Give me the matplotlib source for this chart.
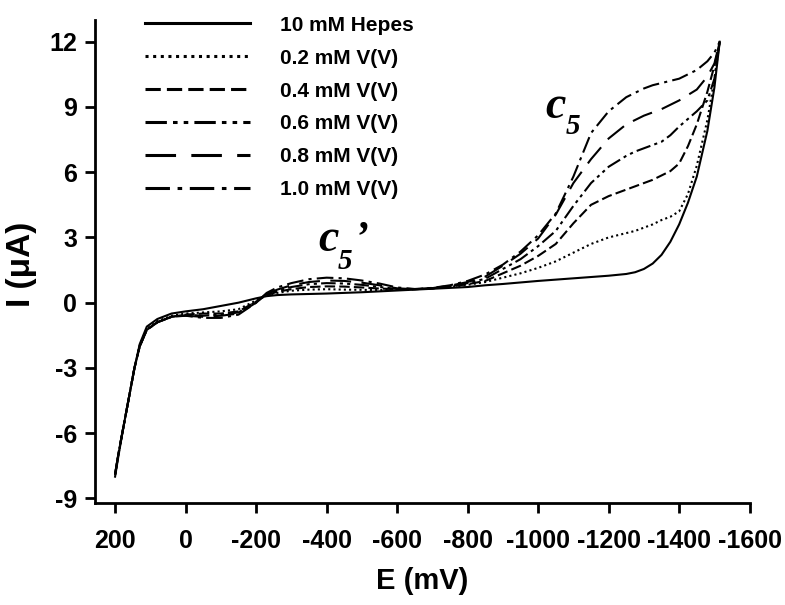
import matplotlib
matplotlib.use("Agg")
import matplotlib.pyplot as plt

plt.rcParams['font.family'] = ['Liberation Sans', 'DejaVu Sans']
plt.rcParams['font.weight'] = 'bold'
plt.rcParams['axes.unicode_minus'] = False

# potential grid (mV), forward scan
E = [200, 190, 175, 160, 145, 130, 110, 80, 40, 0, -50, -100, -150, -200,
     -230, -260, -300, -350, -400, -450, -500, -550, -600, -650, -700, -750,
     -800, -850, -900, -950, -1000, -1050, -1100, -1150, -1200, -1250, -1275,
     -1300, -1325, -1350, -1375, -1400, -1425, -1450, -1480, -1500, -1515]

# current (uA) for each solution
I_hepes = [-8.0, -7.0, -5.6, -4.3, -3.0, -1.9, -1.1, -0.75, -0.5, -0.4, -0.3, -0.15, 0.0, 0.2,
           0.3, 0.35, 0.38, 0.4, 0.42, 0.45, 0.48, 0.52, 0.56, 0.6, 0.64, 0.68,
           0.72, 0.8, 0.86, 0.93, 1.0, 1.06, 1.12, 1.18, 1.24, 1.32, 1.4,
           1.55, 1.8, 2.2, 2.8, 3.6, 4.6, 5.8, 7.9, 9.9, 12.0]
I_02 = [-7.9, -6.9, -5.6, -4.3, -3.0, -1.95, -1.2, -0.85, -0.6, -0.5, -0.45, -0.4, -0.3, 0.1,
        0.35, 0.45, 0.55, 0.6, 0.62, 0.6, 0.59, 0.58, 0.6, 0.62, 0.66, 0.72,
        0.82, 0.95, 1.15, 1.35, 1.6, 1.9, 2.3, 2.7, 3.0, 3.2, 3.3,
        3.45, 3.6, 3.8, 3.95, 4.2, 5.0, 6.3, 8.4, 10.3, 12.0]
I_04 = [-7.9, -6.9, -5.6, -4.3, -3.0, -2.0, -1.25, -0.9, -0.65, -0.55, -0.5, -0.5, -0.4, 0.05,
        0.35, 0.5, 0.62, 0.72, 0.75, 0.74, 0.7, 0.65, 0.62, 0.62, 0.66, 0.74,
        0.85, 1.0, 1.35, 1.7, 2.15, 2.7, 3.65, 4.5, 4.9, 5.2, 5.35,
        5.5, 5.65, 5.85, 6.05, 6.4, 7.2, 8.2, 9.7, 10.9, 12.0]
I_06 = [-7.9, -6.9, -5.6, -4.3, -3.0, -2.0, -1.25, -0.9, -0.65, -0.55, -0.6, -0.55, -0.45, 0.05,
        0.4, 0.55, 0.72, 0.85, 0.9, 0.88, 0.82, 0.72, 0.63, 0.62, 0.66, 0.76,
        0.9, 1.1, 1.55, 2.0, 2.6, 3.3, 4.45, 5.5, 6.25, 6.75, 6.95,
        7.1, 7.25, 7.4, 7.7, 8.1, 8.45, 8.8, 9.3, 10.3, 12.0]
I_08 = [-7.9, -6.9, -5.6, -4.3, -3.0, -2.0, -1.25, -0.9, -0.65, -0.6, -0.65, -0.6, -0.5, 0.0,
        0.4, 0.6, 0.8, 0.95, 1.02, 1.0, 0.92, 0.8, 0.66, 0.62, 0.67, 0.78,
        0.95, 1.2, 1.7, 2.25, 2.95, 4.05, 5.5, 6.6, 7.55, 8.2, 8.4,
        8.6, 8.75, 8.9, 9.1, 9.3, 9.55, 9.8, 10.4, 11.0, 12.0]
I_10 = [-7.9, -6.9, -5.6, -4.3, -3.0, -2.0, -1.25, -0.9, -0.65, -0.6, -0.7, -0.7, -0.55, 0.0,
        0.45, 0.7, 0.9, 1.08, 1.15, 1.12, 1.02, 0.88, 0.7, 0.63, 0.68, 0.8,
        1.0, 1.3, 1.75, 2.35, 3.1, 4.1, 5.8, 7.8, 8.8, 9.45, 9.65,
        9.85, 10.0, 10.1, 10.2, 10.3, 10.5, 10.7, 11.1, 11.5, 12.0]

labels = ['10 mM Hepes', '0.2 mM V(V)', '0.4 mM V(V)', '0.6 mM V(V)',
          '0.8 mM V(V)', '1.0 mM V(V)']
series = [I_hepes, I_02, I_04, I_06, I_08, I_10]
styles = ['-', (0, (1, 1.5)), (0, (5, 2)), (0, (7, 2, 1.5, 2, 1.5, 2)),
          (0, (10, 5)), (0, (8, 2.5, 1.5, 2.5))]

fig = plt.figure(figsize=(7.85, 6.05), dpi=100)
ax = fig.add_axes([0.121, 0.169, 0.834, 0.798])

for y, ls, lab in zip(series, styles, labels):
    ax.plot(E, y, color='black', linestyle=ls, linewidth=1.5, label=lab)

ax.set_xlim(257, -1600)
ax.set_ylim(-9.2, 13)
ax.set_xticks(range(200, -1601, -200))
ax.set_yticks(range(-9, 13, 3))
for s in ['top', 'right']:
    ax.spines[s].set_visible(False)
for s in ['left', 'bottom']:
    ax.spines[s].set_linewidth(2)
ax.tick_params(direction='out', length=7, width=2, labelsize=18)
ax.tick_params(axis='x', pad=12)
ax.tick_params(axis='y', pad=6)
for t in ax.get_xticklabels() + ax.get_yticklabels():
    t.set_fontweight('bold')

ax.set_xlabel('E (mV)', fontsize=21, fontweight='bold')
ax.set_ylabel('I (μA)', fontsize=24, fontweight='bold')
ax.xaxis.set_label_coords(0.5, -0.1325)
ax.yaxis.set_label_coords(-0.0885, 0.493)

leg = ax.legend(loc='upper left', bbox_to_anchor=(0.076, 1.009), frameon=False,
                fontsize=15, handlelength=5.05, handletextpad=1.45,
                labelspacing=0.67, borderpad=0, borderaxespad=0)
for t in leg.get_texts():
    t.set_fontweight('bold')
for h in leg.get_lines():
    h.set_linewidth(2.2)

serif = dict(fontfamily='Liberation Serif', style='italic', fontweight='bold',
             ha='center', va='center')
ax.text(-1048, 9.0, 'c', fontsize=33, **serif)
ax.text(-1099, 8.1, '5', fontsize=21, **serif)
ax.text(-404, 2.9, 'c', fontsize=33, **serif)
ax.text(-452, 1.9, '5', fontsize=21, **serif)
ax.text(-500, 2.9, '\u2019', fontsize=30, **serif)

fig.savefig('out.png', dpi=100)
